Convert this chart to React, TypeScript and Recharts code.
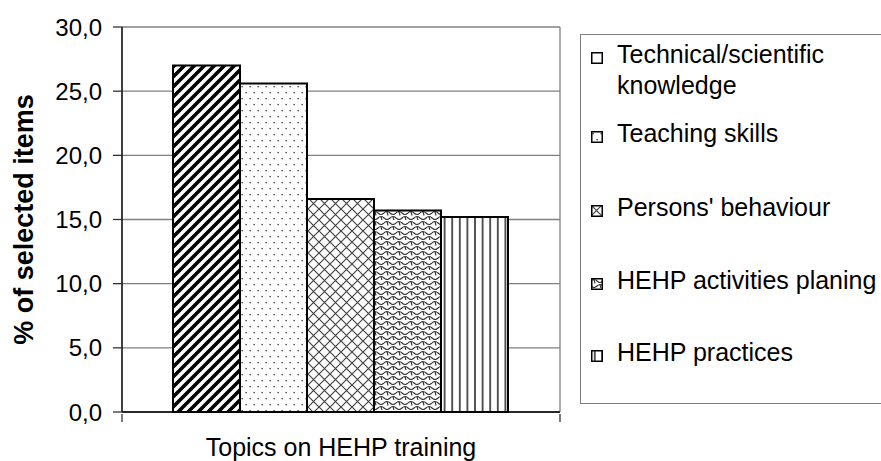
import { BarChart, Bar, XAxis, YAxis, CartesianGrid, Legend } from "recharts";

const topics = [
  "Technical/scientific knowledge",
  "Teaching skills",
  "Persons' behaviour",
  "HEHP activities planing",
  "HEHP practices",
];
const shares = [27.0, 25.6, 16.6, 15.7, 15.2];
const yTicks = [0, 5, 10, 15, 20, 25, 30];
const category = "Topics on HEHP training";
const yTitle = "% of selected items";

const patternIds = ["pDiag", "pDots", "pCross", "pScale", "pVert"];
const legendFills = ["#fff", "url(#pDots)", "url(#pCross)", "url(#pScale)", "url(#pVert)"];
// top of each legend row inside the box (px)
const legendTops = [4, 83, 157, 230, 302];

const FONT = "'Liberation Sans', Arial, sans-serif";

const row: Record<string, string | number> = { cat: category };
topics.forEach((_, i) => (row[`s${i}`] = shares[i]));
const data = [row];

function Patterns() {
  return (
    <svg width={0} height={0} style={{ position: "absolute" }}>
      <defs>
        <pattern id="pDiag" width={10} height={10} patternUnits="userSpaceOnUse">
          <rect width={10} height={10} fill="#fff" />
          <path d="M-2.5,2.5 L2.5,-2.5 M0,10 L10,0 M7.5,12.5 L12.5,7.5" stroke="#000" strokeWidth={3.6} />
        </pattern>
        <pattern id="pDots" width={8} height={12} patternUnits="userSpaceOnUse">
          <rect width={8} height={12} fill="#fff" />
          <rect x={1.5} y={2} width={1.3} height={1.3} fill="#333" />
          <rect x={5.5} y={8} width={1.3} height={1.3} fill="#333" />
        </pattern>
        <pattern id="pCross" width={11} height={11} patternUnits="userSpaceOnUse">
          <rect width={11} height={11} fill="#fff" />
          <path d="M0,0 L11,11 M11,0 L0,11" stroke="#444" strokeWidth={1.2} />
        </pattern>
        <pattern id="pScale" width={12} height={10} patternUnits="userSpaceOnUse">
          <rect width={12} height={10} fill="#fff" />
          <path
            d="M0,3 Q3,0 6,3 T12,3 M-6,8 Q-3,5 0,8 T6,8 T12,8 T18,8 M3,1.5 L4,5.5 M9,6.5 L10,10.5"
            stroke="#333"
            strokeWidth={1.1}
            fill="none"
          />
        </pattern>
        <pattern id="pVert" width={7.6} height={10} patternUnits="userSpaceOnUse">
          <rect width={7.6} height={10} fill="#fff" />
          <line x1={3.8} y1={0} x2={3.8} y2={10} stroke="#000" strokeWidth={1.3} />
        </pattern>
      </defs>
    </svg>
  );
}

function TopicLegend() {
  return (
    <div
      style={{
        position: "relative",
        width: 400,
        height: 370,
        boxSizing: "border-box",
        border: "1.5px solid #808080",
        background: "#fff",
        fontFamily: FONT,
        fontSize: 25,
        lineHeight: "31px",
        color: "#000",
      }}
    >
      {topics.map((t, i) => (
        <div
          key={t}
          style={{ position: "absolute", left: 10, top: legendTops[i], display: "flex", alignItems: "flex-start" }}
        >
          <svg width={12} height={12} style={{ marginTop: 13, flexShrink: 0 }}>
            <rect x={0.75} y={0.75} width={10.5} height={10.5} fill={legendFills[i]} stroke="#000" strokeWidth={1.5} />
          </svg>
          <span style={{ marginLeft: 14, width: 285 }}>{t}</span>
        </div>
      ))}
    </div>
  );
}

// Excel-style category ticks: marks at both edges of the band, not at its centre
function BandEdgeTick({ x, y, payload }: any) {
  const half = payload?.offset ?? 0;
  return (
    <g stroke="#333" strokeWidth={1.3}>
      <line x1={x - half} y1={y} x2={x - half} y2={y + 8} />
      <line x1={x + half} y1={y} x2={x + half} y2={y + 8} />
    </g>
  );
}

export default function App() {
  return (
    <div style={{ position: "absolute", left: 0, top: 0, width: 881, height: 461, overflow: "hidden", background: "#fff" }}>
      <Patterns />
      <BarChart
        width={881}
        height={461}
        data={data}
        margin={{ top: 27, right: 321, bottom: 8, left: 0 }}
        barGap={0}
        barCategoryGap={51}
      >
        <CartesianGrid
          stroke="#808080"
          strokeWidth={1.3}
          verticalCoordinatesGenerator={({ offset }: any) => [offset.left + offset.width]}
        />
        <XAxis
          dataKey="cat"
          height={41}
          tickLine={false}
          tickSize={0}
          tick={<BandEdgeTick />}
          axisLine={{ stroke: "#000", strokeWidth: 1.5 }}
          label={({ viewBox }: any) => (
            <text
              x={viewBox.x + viewBox.width / 2}
              y={viewBox.y + 44}
              textAnchor="middle"
              fontFamily={FONT}
              fontSize={25}
              fill="#000"
            >
              {category}
            </text>
          )}
        />
        <YAxis
          width={122}
          domain={[0, 30]}
          ticks={yTicks}
          interval={0}
          tickSize={9}
          tickMargin={11}
          axisLine={{ stroke: "#000", strokeWidth: 1.5 }}
          tickLine={{ stroke: "#333", strokeWidth: 1.3 }}
          tick={{ fontFamily: FONT, fontSize: 24, fill: "#000" }}
          tickFormatter={(v: number) => v.toFixed(1).replace(".", ",")}
          label={({ viewBox }: any) => (
            <text
              transform={`translate(${viewBox.x + 33}, ${viewBox.y + viewBox.height / 2}) rotate(-90)`}
              textAnchor="middle"
              fontFamily={FONT}
              fontSize={27}
              fontWeight="bold"
              fill="#000"
            >
              {yTitle}
            </text>
          )}
        />
        {topics.map((t, i) => (
          <Bar
            key={t}
            dataKey={`s${i}`}
            name={t}
            fill={`url(#${patternIds[i]})`}
            stroke="#000"
            strokeWidth={2}
            isAnimationActive={false}
          />
        ))}
        <Legend
          layout="horizontal"
          verticalAlign="middle"
          align="center"
          wrapperStyle={{ left: 580, top: 34, width: 400, height: 370 }}
          content={() => <TopicLegend />}
        />
      </BarChart>
    </div>
  );
}
